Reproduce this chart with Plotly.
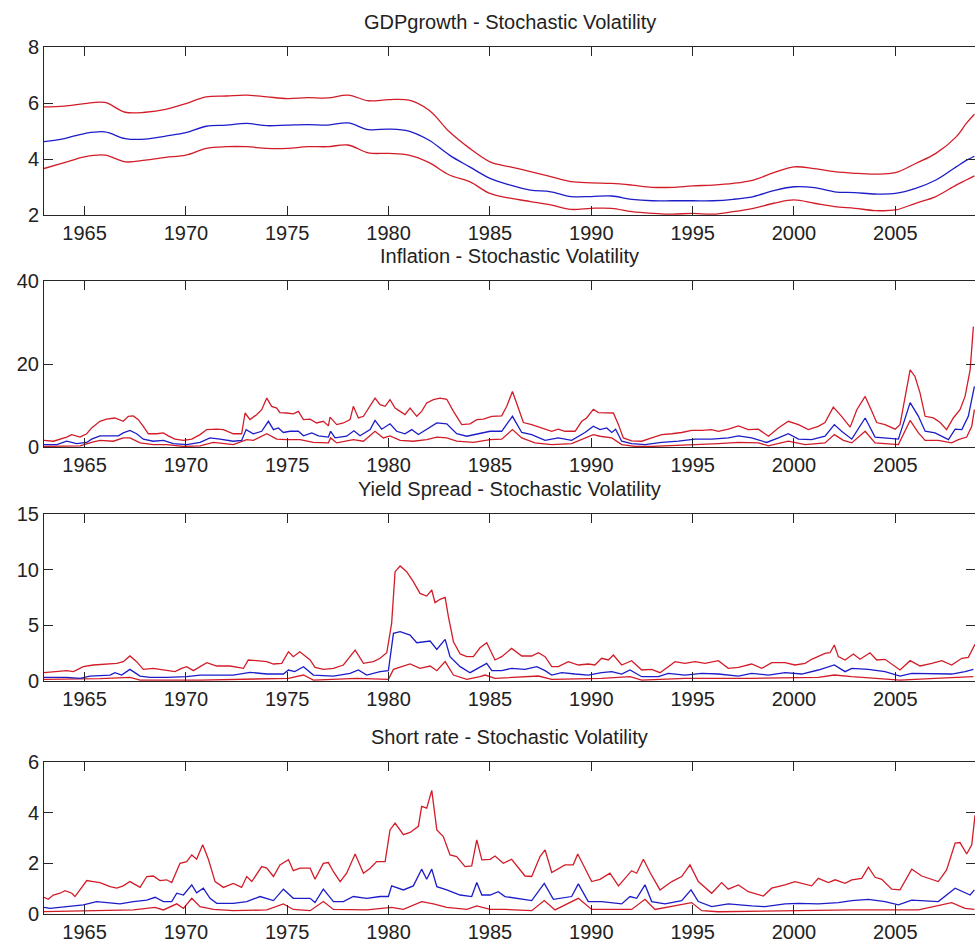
import plotly.graph_objects as go

# ---------------- DATA ----------------
titles = ["GDPgrowth - Stochastic Volatility", "Inflation - Stochastic Volatility",
          "Yield Spread - Stochastic Volatility", "Short rate - Stochastic Volatility"]
x_ticks = [1965, 1970, 1975, 1980, 1985, 1990, 1995, 2000, 2005]
x_range = [1963.0, 2008.93]
y_ranges = [[2, 8], [0, 40], [0, 15], [0, 6]]
y_ticks = [[2, 4, 6, 8], [0, 20, 40], [0, 5, 10, 15], [0, 2, 4, 6]]

# GDP growth
gdp_x = [1963, 1964, 1965, 1966, 1967, 1968, 1969, 1970, 1971, 1972, 1973, 1974, 1975, 1976, 1977,
         1978, 1979, 1980, 1981, 1982, 1983, 1984, 1985, 1986, 1987, 1988, 1989, 1990, 1991, 1992,
         1993, 1994, 1995, 1996, 1997, 1998, 1999, 2000, 2001, 2002, 2003, 2004, 2005, 2006, 2007,
         2008, 2008.5, 2008.9]
gdp_up = [5.86, 5.89, 5.98, 6.02, 5.67, 5.67, 5.77, 5.98, 6.22, 6.25, 6.28, 6.22, 6.16, 6.19, 6.18,
          6.28, 6.08, 6.12, 6.1, 5.74, 4.97, 4.38, 3.9, 3.72, 3.55, 3.37, 3.19, 3.15, 3.13, 3.07,
          2.99, 2.99, 3.04, 3.07, 3.13, 3.25, 3.51, 3.72, 3.66, 3.55, 3.49, 3.46, 3.51, 3.84, 4.2,
          4.79, 5.27, 5.6]
gdp_mid = [4.62, 4.73, 4.91, 4.97, 4.73, 4.71, 4.82, 4.94, 5.17, 5.21, 5.27, 5.19, 5.21, 5.23, 5.21,
           5.29, 5.05, 5.07, 5.0, 4.67, 4.14, 3.72, 3.31, 3.07, 2.89, 2.83, 2.66, 2.66, 2.68, 2.56,
           2.51, 2.51, 2.51, 2.51, 2.56, 2.66, 2.87, 3.01, 2.98, 2.83, 2.8, 2.75, 2.77, 2.95, 3.25,
           3.72, 3.95, 4.1]
gdp_lo = [3.66, 3.87, 4.08, 4.14, 3.9, 3.96, 4.06, 4.14, 4.38, 4.44, 4.44, 4.38, 4.38, 4.44, 4.44,
          4.5, 4.22, 4.2, 4.14, 3.87, 3.43, 3.19, 2.77, 2.6, 2.48, 2.36, 2.2, 2.24, 2.24, 2.12,
          2.06, 2.03, 2.06, 2.03, 2.12, 2.24, 2.42, 2.54, 2.42, 2.3, 2.24, 2.16, 2.18, 2.42, 2.66,
          3.07, 3.25, 3.4]

# Inflation
infl_up_x = [1963.0, 1963.46, 1964.12, 1964.37, 1964.78, 1965.11, 1965.35, 1965.76, 1966.09, 1966.5,
             1966.91, 1967.16, 1967.41, 1967.65, 1967.9, 1968.15, 1968.56, 1968.89, 1969.13, 1969.46,
             1969.88, 1970.29, 1970.7, 1971.03, 1971.52, 1971.85, 1972.34, 1972.75, 1972.92, 1973.16,
             1973.49, 1973.74, 1973.99, 1974.23, 1974.48, 1974.64, 1974.97, 1975.3, 1975.55, 1975.8,
             1976.13, 1976.45, 1976.78, 1977.03, 1977.11, 1977.44, 1977.77, 1978.1, 1978.26, 1978.51,
             1978.76, 1979.09, 1979.33, 1979.58, 1979.83, 1980.07, 1980.32, 1980.57, 1980.81, 1981.06,
             1981.39, 1981.63, 1981.88, 1982.21, 1982.54, 1982.87, 1983.2, 1983.61, 1984.02, 1984.35,
             1984.68, 1985.09, 1985.58, 1985.83, 1986.11, 1986.4, 1986.65, 1987.06, 1987.55, 1988.05,
             1988.37, 1988.7, 1989.2, 1989.53, 1989.77, 1990.1, 1990.35, 1990.68, 1991.09, 1991.34,
             1991.58, 1991.99, 1992.49, 1992.98, 1993.47, 1993.97, 1994.46, 1994.95, 1995.45, 1995.94,
             1996.27, 1996.76, 1997.26, 1997.75, 1998.24, 1998.74, 1999.23, 1999.72, 2000.22, 2000.71,
             2001.2, 2001.53, 2001.94, 2002.35, 2002.77, 2003.1, 2003.51, 2003.84, 2004.08, 2004.49,
             2004.99, 2005.23, 2005.48, 2005.73, 2005.97, 2006.22, 2006.47, 2006.88, 2007.21, 2007.53,
             2007.86, 2008.19, 2008.44, 2008.69, 2008.85]
infl_up = [1.6, 1.4, 2.4, 3.0, 2.4, 3.2, 4.6, 6.2, 6.7, 7.0,
           6.2, 7.4, 7.5, 6.6, 5.0, 3.2, 3.2, 3.4, 2.7, 1.9,
           1.6, 1.9, 3.0, 4.2, 4.3, 4.2, 3.2, 3.2, 8.2, 6.6,
           7.8, 9.0, 11.8, 9.8, 9.4, 8.3, 8.2, 8.0, 8.6, 6.6,
           6.7, 5.8, 6.2, 5.1, 7.2, 5.4, 5.8, 6.6, 9.8, 7.0,
           7.4, 9.8, 11.8, 10.2, 9.8, 11.4, 9.4, 8.6, 7.8, 9.4,
           7.4, 8.6, 10.6, 11.4, 11.8, 11.5, 8.6, 5.4, 5.6, 6.6,
           6.7, 7.4, 7.5, 9.8, 13.4, 9.4, 5.9, 5.4, 4.6, 3.8,
           4.3, 3.8, 3.8, 6.2, 7.0, 9.1, 8.3, 8.3, 8.2, 5.4,
           2.2, 1.5, 1.4, 2.2, 3.0, 3.2, 3.5, 4.0, 4.0, 4.2,
           3.8, 4.3, 5.1, 4.2, 4.3, 2.6, 4.6, 6.2, 5.4, 4.2,
           5.0, 5.9, 9.6, 7.4, 4.8, 9.0, 12.2, 8.6, 5.9, 5.4,
           4.3, 5.4, 12.2, 18.6, 17.0, 13.0, 7.4, 7.0, 5.9, 4.2,
           7.0, 9.0, 12.2, 18.6, 29.0]
infl_mid_x = [1963.0, 1963.63, 1964.12, 1964.61, 1965.11, 1965.35, 1965.76, 1966.26, 1966.67, 1966.91,
              1967.24, 1967.57, 1967.9, 1968.39, 1968.89, 1969.38, 1970.04, 1970.7, 1971.19, 1971.68,
              1972.34, 1972.75, 1972.97, 1973.33, 1973.74, 1974.07, 1974.32, 1974.56, 1974.81, 1975.14,
              1975.55, 1975.8, 1976.21, 1976.54, 1977.03, 1977.14, 1977.36, 1977.93, 1978.29, 1978.59,
              1979.09, 1979.33, 1979.66, 1980.07, 1980.4, 1980.81, 1981.14, 1981.47, 1981.88, 1982.38,
              1982.87, 1983.36, 1983.86, 1984.51, 1985.01, 1985.58, 1986.11, 1986.57, 1987.06, 1987.72,
              1988.37, 1989.03, 1989.69, 1990.1, 1990.43, 1990.76, 1991.01, 1991.2, 1991.5, 1991.99,
              1992.65, 1993.47, 1994.3, 1995.12, 1995.94, 1996.76, 1997.26, 1997.91, 1998.65, 1999.23,
              1999.72, 2000.22, 2000.87, 2001.53, 2001.99, 2002.35, 2002.85, 2003.51, 2004.0, 2005.15,
              2005.51, 2005.73, 2006.14, 2006.47, 2006.96, 2007.62, 2007.95, 2008.28, 2008.6, 2008.9]
infl_mid = [0.6, 0.6, 1.4, 0.8, 1.1, 1.9, 2.7, 2.7, 2.7, 3.4,
            4.0, 3.2, 1.9, 1.4, 1.6, 0.8, 0.6, 1.1, 2.2, 1.9,
            1.4, 1.6, 4.2, 3.2, 3.8, 6.2, 4.2, 4.6, 3.5, 3.8,
            3.8, 2.7, 3.4, 2.7, 2.4, 3.8, 2.2, 2.6, 3.9, 2.7,
            4.2, 6.4, 4.3, 5.6, 3.8, 3.2, 4.2, 3.0, 4.3, 5.8,
            5.6, 3.2, 2.6, 3.2, 3.8, 3.8, 7.4, 3.5, 3.0, 1.6,
            2.2, 1.6, 3.5, 5.0, 4.2, 4.6, 3.5, 4.3, 1.4, 0.8,
            0.6, 1.1, 1.4, 1.9, 1.9, 2.2, 2.7, 2.2, 1.1, 2.2,
            3.2, 1.9, 1.8, 2.6, 5.4, 3.8, 1.9, 7.0, 2.4, 1.9,
            7.4, 10.7, 7.4, 3.8, 3.4, 1.8, 4.3, 4.2, 7.4, 14.6]
infl_lo_x = [1963.0, 1964.12, 1964.78, 1965.35, 1965.76, 1966.42, 1966.91, 1967.24, 1967.74, 1968.39,
             1969.05, 1969.88, 1970.7, 1971.36, 1972.34, 1973.0, 1973.33, 1973.99, 1974.48, 1974.97,
             1975.63, 1976.29, 1977.03, 1977.14, 1977.44, 1978.26, 1978.76, 1979.33, 1979.74, 1980.07,
             1980.57, 1981.22, 1981.88, 1982.38, 1982.87, 1983.36, 1984.18, 1985.01, 1985.58, 1986.11,
             1986.57, 1987.22, 1988.05, 1989.03, 1989.69, 1990.1, 1990.43, 1991.01, 1991.5, 1992.16,
             1992.98, 1993.97, 1994.95, 1996.27, 1997.26, 1998.24, 1998.74, 1999.72, 2000.55, 2001.53,
             2001.99, 2002.44, 2002.85, 2003.51, 2004.0, 2005.15, 2005.73, 2006.14, 2006.47, 2007.12,
             2007.78, 2008.11, 2008.52, 2008.77, 2008.9]
infl_lo = [0.15, 0.15, 0.3, 1.1, 1.6, 1.4, 2.2, 2.2, 1.0, 0.6,
           0.6, 0.15, 0.3, 1.1, 0.6, 1.8, 1.6, 3.2, 1.9, 1.8,
           1.8, 1.1, 1.0, 2.2, 1.0, 1.8, 1.4, 3.8, 2.2, 2.7,
           1.6, 1.4, 1.8, 2.4, 2.2, 1.4, 1.1, 1.8, 1.9, 4.2,
           2.2, 1.0, 0.6, 0.8, 2.2, 3.0, 2.6, 2.2, 0.6, 0.15,
           0.15, 0.3, 0.6, 0.8, 1.1, 1.0, 0.3, 1.4, 0.6, 1.0,
           3.0, 1.6, 1.0, 3.8, 1.0, 0.6, 6.4, 3.4, 1.6, 1.6,
           1.0, 1.8, 2.4, 5.0, 9.0]

# Yield spread
ys_up_x = [1963.0, 1963.63, 1964.12, 1964.45, 1964.94, 1965.43, 1966.09, 1966.59, 1966.91, 1967.24,
           1967.57, 1967.9, 1968.39, 1968.89, 1969.46, 1969.79, 1970.04, 1970.37, 1971.03, 1971.52,
           1972.18, 1972.84, 1973.08, 1973.49, 1973.99, 1974.32, 1974.73, 1975.06, 1975.3, 1975.62,
           1976.13, 1976.37, 1976.78, 1977.28, 1977.77, 1978.35, 1978.76, 1979.25, 1979.58, 1979.91,
           1980.15, 1980.32, 1980.57, 1980.89, 1981.22, 1981.55, 1981.88, 1982.13, 1982.29, 1982.54,
           1982.79, 1982.95, 1983.2, 1983.53, 1983.86, 1984.18, 1984.51, 1984.84, 1985.0, 1985.25,
           1985.58, 1986.07, 1986.57, 1987.06, 1987.39, 1987.72, 1988.05, 1988.37, 1988.87, 1989.36,
           1989.85, 1990.18, 1990.51, 1990.84, 1991.09, 1991.5, 1991.99, 1992.49, 1992.98, 1993.39,
           1993.8, 1994.13, 1994.62, 1995.12, 1995.61, 1996.27, 1996.76, 1997.26, 1997.91, 1998.41,
           1998.9, 1999.56, 2000.05, 2000.55, 2000.87, 2001.53, 2001.78, 2001.99, 2002.19, 2002.52,
           2002.93, 2003.26, 2003.75, 2004.08, 2004.49, 2004.9, 2005.23, 2005.73, 2006.22, 2006.8,
           2007.29, 2007.78, 2008.28, 2008.6, 2008.85, 2008.93]
ys_up = [0.75, 0.84, 0.93, 0.84, 1.29, 1.44, 1.53, 1.59, 1.74, 2.25,
         1.74, 1.05, 1.14, 0.99, 0.84, 1.14, 1.29, 0.93, 1.65, 1.35,
         1.35, 1.14, 1.89, 1.83, 1.74, 1.53, 1.59, 2.63, 2.19, 2.63,
         1.89, 1.23, 1.05, 1.14, 1.44, 2.78, 1.59, 1.74, 2.04, 2.54,
         5.18, 9.82, 10.33, 9.82, 8.92, 7.87, 7.63, 8.17, 7.04, 7.34,
         7.51, 5.78, 3.53, 2.43, 2.19, 2.19, 2.99, 3.44, 2.78, 1.89,
         2.19, 2.93, 2.25, 2.25, 2.54, 2.19, 1.29, 1.29, 1.74, 1.44,
         1.53, 1.44, 2.04, 1.89, 2.34, 1.44, 1.83, 0.99, 1.05, 0.75,
         1.29, 1.74, 1.59, 1.74, 1.59, 1.83, 1.14, 1.23, 1.53, 1.14,
         1.65, 1.65, 1.44, 1.59, 1.95, 2.49, 2.54, 3.23, 2.19, 1.89,
         2.43, 1.95, 2.54, 1.89, 1.95, 1.44, 0.99, 1.83, 1.35, 1.59,
         1.83, 1.44, 2.04, 2.13, 3.02, 3.3]
ys_mid_x = [1963.0, 1964.12, 1964.78, 1965.27, 1966.26, 1966.5, 1966.83, 1967.24, 1967.74, 1968.23,
            1969.05, 1970.04, 1970.7, 1972.34, 1973.16, 1973.99, 1974.81, 1975.06, 1975.37, 1975.8,
            1976.29, 1977.28, 1978.1, 1978.51, 1978.92, 1979.58, 1979.99, 1980.24, 1980.57, 1981.06,
            1981.39, 1982.05, 1982.38, 1982.79, 1983.03, 1983.53, 1984.02, 1984.51, 1984.84, 1985.09,
            1985.58, 1986.07, 1986.73, 1987.31, 1987.72, 1988.05, 1988.54, 1989.2, 1989.85, 1990.51,
            1991.01, 1991.5, 1991.91, 1992.49, 1993.31, 1993.8, 1994.62, 1995.45, 1996.27, 1997.26,
            1997.91, 1998.74, 1999.56, 2000.38, 2001.2, 2001.99, 2002.52, 2002.85, 2003.67, 2004.49,
            2005.23, 2005.81, 2006.96, 2007.78, 2008.44, 2008.85]
ys_mid = [0.33, 0.33, 0.24, 0.45, 0.54, 0.75, 0.54, 1.05, 0.45, 0.33,
          0.33, 0.39, 0.54, 0.54, 0.78, 0.63, 0.63, 0.99, 0.84, 1.29,
          0.54, 0.45, 0.69, 0.99, 0.54, 0.84, 0.93, 4.28, 4.43, 4.13,
          3.44, 3.59, 2.84, 3.74, 2.19, 1.29, 0.75, 1.29, 1.59, 0.93,
          0.93, 1.14, 1.05, 1.29, 0.93, 0.54, 0.75, 0.63, 0.54, 0.75,
          0.84, 0.63, 0.99, 0.39, 0.39, 0.69, 0.54, 0.69, 0.63, 0.45,
          0.69, 0.54, 0.75, 0.63, 0.99, 1.44, 0.84, 1.14, 1.05, 0.84,
          0.45, 0.69, 0.69, 0.63, 0.84, 1.05]
ys_lo_x = [1963.0, 1965.76, 1967.24, 1967.74, 1970.7, 1973.16, 1975.06, 1975.8, 1976.29, 1978.43,
           1979.99, 1980.24, 1981.06, 1981.55, 1982.05, 1982.38, 1982.79, 1983.2, 1983.86, 1984.51,
           1984.76, 1985.25, 1986.07, 1987.39, 1988.05, 1990.51, 1991.91, 1992.49, 1994.62, 1997.91,
           2001.2, 2001.99, 2002.85, 2005.23, 2006.96, 2008.85]
ys_lo = [0.15, 0.21, 0.33, 0.09, 0.09, 0.15, 0.24, 0.54, 0.09, 0.24,
         0.15, 1.05, 1.53, 1.14, 1.35, 0.93, 1.74, 0.54, 0.15, 0.39,
         0.54, 0.24, 0.33, 0.45, 0.15, 0.24, 0.39, 0.09, 0.24, 0.24,
         0.33, 0.54, 0.39, 0.09, 0.24, 0.39]

# Short rate
sr_up_x = [1963.0, 1963.21, 1963.46, 1963.79, 1964.04, 1964.37, 1964.53, 1964.78, 1965.11, 1965.43,
           1965.76, 1966.26, 1966.59, 1966.91, 1967.24, 1967.74, 1968.07, 1968.39, 1968.72, 1969.05,
           1969.3, 1969.71, 1970.04, 1970.29, 1970.53, 1970.83, 1971.11, 1971.44, 1971.85, 1972.34,
           1972.75, 1973.0, 1973.25, 1973.74, 1973.99, 1974.32, 1974.64, 1975.06, 1975.3, 1975.63,
           1976.13, 1976.37, 1976.78, 1977.03, 1977.28, 1977.61, 1977.93, 1978.35, 1978.76, 1979.09,
           1979.41, 1979.83, 1980.07, 1980.32, 1980.73, 1981.06, 1981.47, 1981.63, 1981.88, 1982.13,
           1982.38, 1982.7, 1983.03, 1983.36, 1983.77, 1984.1, 1984.35, 1984.6, 1985.01, 1985.25,
           1985.66, 1986.07, 1986.73, 1987.06, 1987.47, 1987.72, 1988.05, 1988.7, 1989.11, 1989.33,
           1989.69, 1990.02, 1990.43, 1990.92, 1991.34, 1991.75, 1991.99, 1992.24, 1992.57, 1992.9,
           1993.39, 1993.97, 1994.46, 1994.87, 1995.28, 1995.94, 1996.43, 1996.76, 1997.26, 1997.75,
           1998.49, 1998.9, 1999.56, 2000.05, 2000.87, 2001.2, 2001.7, 2002.03, 2002.52, 2002.85,
           2003.34, 2003.67, 2004.0, 2004.33, 2004.82, 2005.23, 2005.81, 2006.3, 2007.12, 2007.53,
           2007.95, 2008.19, 2008.52, 2008.77, 2008.9, 2008.93]
sr_up = [0.66, 0.58, 0.75, 0.82, 0.92, 0.82, 0.69, 0.95, 1.32, 1.28,
         1.24, 1.08, 1.02, 1.11, 1.28, 1.05, 1.48, 1.5, 1.32, 1.35,
         1.24, 2.0, 2.07, 2.33, 2.16, 2.73, 2.16, 1.28, 1.05, 1.21,
         1.05, 1.48, 1.28, 1.87, 1.81, 1.48, 1.94, 2.14, 1.71, 1.81,
         1.81, 1.37, 2.0, 2.03, 1.67, 1.28, 1.61, 2.37, 1.61, 1.81,
         2.07, 2.07, 3.32, 3.59, 3.13, 3.22, 3.46, 4.25, 4.18, 4.88,
         3.32, 3.06, 2.33, 2.27, 1.87, 1.9, 2.93, 2.14, 2.16, 2.29,
         2.0, 2.16, 1.5, 1.48, 2.27, 2.53, 1.64, 1.94, 1.94, 2.37,
         1.81, 1.28, 1.37, 1.61, 1.11, 1.5, 1.71, 1.61, 2.16, 1.64,
         0.95, 1.28, 1.48, 1.94, 1.28, 0.82, 1.24, 0.98, 1.15, 0.88,
         0.71, 1.02, 1.15, 1.28, 1.11, 1.41, 1.24, 1.35, 1.21, 1.35,
         1.41, 1.85, 1.45, 1.37, 0.98, 0.95, 1.77, 1.5, 1.28, 1.74,
         2.8, 2.82, 2.37, 2.73, 3.59, 3.9]
sr_mid_x = [1963.0, 1963.3, 1964.12, 1964.94, 1965.6, 1966.26, 1966.75, 1967.41, 1968.07, 1968.48,
            1968.89, 1969.3, 1969.55, 1969.88, 1970.29, 1970.53, 1970.86, 1971.19, 1971.52, 1972.34,
            1973.0, 1973.66, 1974.32, 1974.81, 1975.3, 1976.13, 1976.37, 1976.78, 1977.28, 1977.77,
            1978.26, 1978.92, 1979.58, 1979.99, 1980.15, 1980.73, 1981.22, 1981.63, 1981.88, 1982.13,
            1982.38, 1982.87, 1983.53, 1984.1, 1984.35, 1984.6, 1985.01, 1985.41, 1985.74, 1987.06,
            1987.68, 1988.13, 1989.03, 1989.36, 1989.85, 1990.51, 1991.5, 1991.91, 1992.24, 1992.65,
            1992.98, 1993.64, 1994.46, 1994.92, 1995.28, 1995.94, 1996.76, 1997.91, 1998.57, 1999.56,
            2000.22, 2001.2, 2002.19, 2002.85, 2003.67, 2004.49, 2005.15, 2005.81, 2007.12, 2007.95,
            2008.44, 2008.69, 2008.9]
sr_mid = [0.26, 0.22, 0.29, 0.36, 0.49, 0.45, 0.4, 0.49, 0.55, 0.66,
          0.49, 0.49, 0.82, 0.75, 1.15, 0.84, 1.02, 0.62, 0.42, 0.42,
          0.49, 0.69, 0.53, 0.98, 0.62, 0.62, 0.45, 0.98, 0.49, 0.49,
          0.69, 0.62, 0.69, 0.69, 1.11, 0.95, 1.11, 1.77, 1.37, 1.77,
          1.08, 0.95, 0.75, 0.69, 1.24, 0.75, 0.75, 0.88, 0.69, 0.53,
          1.21, 0.58, 0.69, 1.19, 0.49, 0.49, 0.4, 0.69, 0.62, 1.15,
          0.49, 0.4, 0.53, 0.95, 0.49, 0.29, 0.4, 0.32, 0.29, 0.4,
          0.42, 0.4, 0.45, 0.53, 0.58, 0.49, 0.36, 0.55, 0.49, 1.02,
          0.82, 0.75, 0.95]
sr_lo_x = [1963.0, 1965.76, 1967.41, 1968.48, 1968.89, 1969.55, 1969.88, 1970.29, 1970.7, 1971.36,
           1972.34, 1973.99, 1974.81, 1975.3, 1976.13, 1976.78, 1977.28, 1978.92, 1980.15, 1980.73,
           1981.63, 1982.21, 1982.87, 1983.86, 1984.35, 1985.01, 1985.74, 1987.06, 1987.68, 1988.21,
           1989.36, 1990.02, 1991.99, 1992.65, 1993.14, 1994.95, 1995.45, 1996.27, 1999.56, 2002.85,
           2006.14, 2007.78, 2008.44, 2008.9]
sr_lo = [0.09, 0.13, 0.16, 0.26, 0.16, 0.4, 0.22, 0.62, 0.29, 0.18,
         0.13, 0.16, 0.4, 0.18, 0.13, 0.49, 0.18, 0.16, 0.26, 0.18,
         0.49, 0.4, 0.26, 0.18, 0.32, 0.18, 0.18, 0.13, 0.53, 0.16,
         0.62, 0.18, 0.18, 0.58, 0.18, 0.45, 0.13, 0.09, 0.13, 0.16,
         0.16, 0.45, 0.22, 0.18]

# ---------------- FIGURE ----------------
RED = "rgb(210,28,40)"
BLUE = "rgb(28,28,200)"
FONT = "Liberation Sans, Arial, sans-serif"

panels = [
    [(gdp_x, gdp_up, RED), (gdp_x, gdp_lo, RED), (gdp_x, gdp_mid, BLUE)],
    [(infl_up_x, infl_up, RED), (infl_lo_x, infl_lo, RED), (infl_mid_x, infl_mid, BLUE)],
    [(ys_up_x, ys_up, RED), (ys_lo_x, ys_lo, RED), (ys_mid_x, ys_mid, BLUE)],
    [(sr_up_x, sr_up, RED), (sr_lo_x, sr_lo, RED), (sr_mid_x, sr_mid, BLUE)],
]
domains = [[0.8062, 1.0], [0.5386, 0.7301], [0.2687, 0.4614], [0.0, 0.1753]]

fig = go.Figure()
layout = dict(
    width=975, height=949,
    margin=dict(l=44, r=0, t=47, b=35),
    paper_bgcolor="white", plot_bgcolor="white",
    showlegend=False,
    font=dict(family=FONT, size=20, color="#222"),
)
annotations = []
for i, series in enumerate(panels):
    n = "" if i == 0 else str(i + 1)
    for xs, ys, col in series:
        fig.add_trace(go.Scatter(
            x=xs, y=ys, mode="lines",
            line=dict(color=col, width=1.3, shape="spline" if i == 0 else "linear"),
            xaxis="x" + n, yaxis="y" + n, hoverinfo="skip"))
    axis_common = dict(showline=True, linecolor="#262626", linewidth=1,
                       mirror="ticks", ticks="inside", ticklen=9, tickwidth=1,
                       tickcolor="#262626", showgrid=False, zeroline=False,
                       tickfont=dict(family=FONT, size=20, color="#222"))
    layout["xaxis" + n] = dict(axis_common, domain=[0, 1], range=x_range,
                               tickvals=x_ticks, anchor="y" + n)
    layout["yaxis" + n] = dict(axis_common, domain=domains[i], range=y_ranges[i],
                               tickvals=y_ticks[i], anchor="x" + n)
    annotations.append(dict(
        text=titles[i], xref="x" + n + " domain", yref="y" + n + " domain",
        x=0.5, y=1, xanchor="center", yanchor="bottom", yshift=12, showarrow=False,
        font=dict(family=FONT, size=20, color="#222")))
layout["annotations"] = annotations
fig.update_layout(**layout)
fig.write_html("out.html")
